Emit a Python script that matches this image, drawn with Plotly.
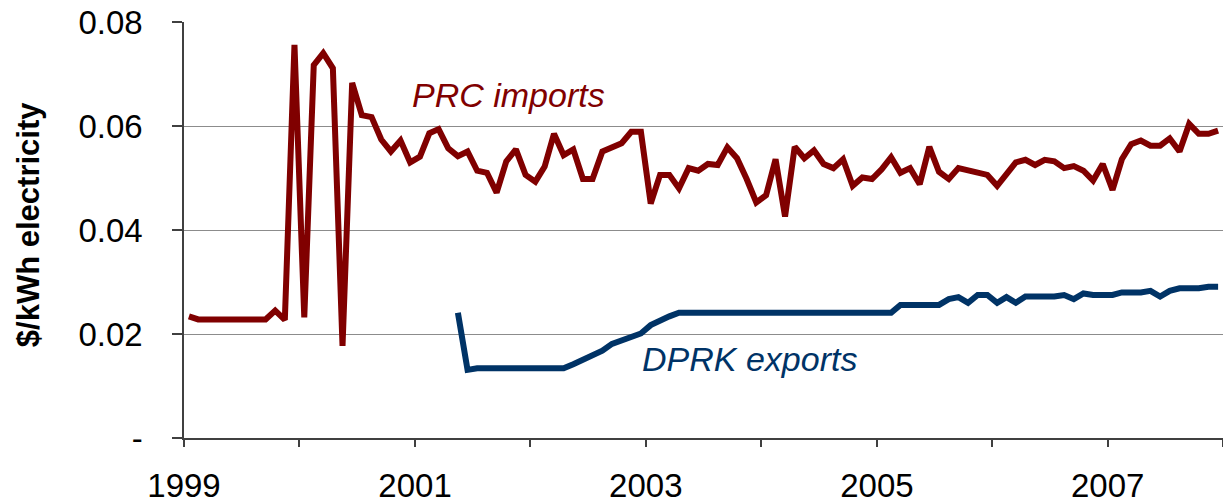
import pandas as pd
import plotly.graph_objects as go

months = [d.strftime("%Y-%m") for d in pd.date_range("1999-01-01", "2007-12-01", freq="MS")]

prc_imports = [
    0.0234, 0.0228, 0.0228, 0.0228, 0.0228, 0.0228, 0.0228, 0.0228, 0.0228, 0.0245, 0.0227, 0.0756,
    0.0232, 0.0717, 0.0740, 0.0711, 0.0177, 0.0683, 0.0621, 0.0617, 0.0574, 0.0551, 0.0572, 0.0530,
    0.0541, 0.0586, 0.0594, 0.0557, 0.0542, 0.0551, 0.0514, 0.0510, 0.0472, 0.0532, 0.0555, 0.0506,
    0.0493, 0.0522, 0.0585, 0.0544, 0.0555, 0.0498, 0.0498, 0.0551, 0.0559, 0.0567, 0.0589, 0.0589,
    0.0451, 0.0506, 0.0506, 0.0480, 0.0519, 0.0514, 0.0527, 0.0525, 0.0559, 0.0538, 0.0498, 0.0453,
    0.0467, 0.0536, 0.0426, 0.0560, 0.0538, 0.0553, 0.0527, 0.0519, 0.0536, 0.0485, 0.0501, 0.0498,
    0.0517, 0.0540, 0.0510, 0.0519, 0.0488, 0.0560, 0.0512, 0.0498, 0.0519, 0.0514, 0.0510, 0.0506,
    0.0485, 0.0508, 0.0530, 0.0535, 0.0525, 0.0535, 0.0532, 0.0519, 0.0523, 0.0514, 0.0495, 0.0527,
    0.0477, 0.0536, 0.0565, 0.0572, 0.0562, 0.0562, 0.0576, 0.0551, 0.0604, 0.0585, 0.0585, 0.0591,
]

dprk_exports = [
    None, None, None, None, None, None, None, None, None, None, None, None,
    None, None, None, None, None, None, None, None, None, None, None, None,
    None, None, None, None, 0.0241, 0.0131, 0.0134, 0.0134, 0.0134, 0.0134, 0.0134, 0.0134,
    0.0134, 0.0134, 0.0134, 0.0134, 0.0142, 0.0151, 0.0159, 0.0168, 0.0181, 0.0188, 0.0194, 0.0201,
    0.0217, 0.0227, 0.0234, 0.0241, 0.0241, 0.0241, 0.0241, 0.0241, 0.0241, 0.0241, 0.0241, 0.0241,
    0.0241, 0.0241, 0.0241, 0.0241, 0.0241, 0.0241, 0.0241, 0.0241, 0.0241, 0.0241, 0.0241, 0.0241,
    0.0241, 0.0241, 0.0256, 0.0256, 0.0256, 0.0256, 0.0256, 0.0267, 0.0271, 0.0260, 0.0275, 0.0275,
    0.0260, 0.0271, 0.0260, 0.0272, 0.0272, 0.0272, 0.0272, 0.0275, 0.0267, 0.0278, 0.0275, 0.0275,
    0.0275, 0.0280, 0.0280, 0.0280, 0.0283, 0.0272, 0.0283, 0.0288, 0.0288, 0.0288, 0.0291, 0.0291,
]

year_ticks = ["1999", "2000", "2001", "2002", "2003", "2004", "2005", "2006", "2007", "2008"]
year_labels = ["1999", "", "2001", "", "2003", "", "2005", "", "2007", ""]
y_ticks = [0, 0.02, 0.04, 0.06, 0.08]
y_labels = ["-", "0.02", "0.04", "0.06", "0.08"]

RED = "#800000"
BLUE = "#003366"
FONT = "Liberation Sans, Arial, sans-serif"

fig = go.Figure()
fig.add_trace(go.Scatter(
    x=months, y=prc_imports, mode="lines", name="PRC imports",
    line=dict(color=RED, width=6), xperiod="M1", xperiodalignment="middle",
))
fig.add_trace(go.Scatter(
    x=months, y=dprk_exports, mode="lines", name="DPRK exports",
    line=dict(color=BLUE, width=6), xperiod="M1", xperiodalignment="middle",
    connectgaps=False,
))

fig.add_annotation(x="2001-10-22", y=0.0660, text="<i>PRC imports</i>", showarrow=False,
                   font=dict(family=FONT, size=34, color=RED), xanchor="center", yanchor="middle")
fig.add_annotation(x="2003-11-25", y=0.0151, text="<i>DPRK exports</i>", showarrow=False,
                   font=dict(family=FONT, size=34, color=BLUE), xanchor="center", yanchor="middle")
fig.add_annotation(x=-0.150, y=0.512, xref="paper", yref="paper", text="<b>$/kWh electricity</b>",
                   textangle=-90, showarrow=False, font=dict(family=FONT, size=31, color="black"),
                   xanchor="center", yanchor="middle")

fig.update_layout(
    width=1223, height=504,
    margin=dict(l=184, r=0, t=22, b=66),
    paper_bgcolor="white", plot_bgcolor="white",
    showlegend=False,
    font=dict(family=FONT, size=33, color="black"),
)
fig.update_xaxes(
    type="date", range=["1999-01-01", "2008-01-01"], automargin=False,
    tickmode="array", tickvals=year_ticks, ticktext=year_labels,
    ticks="outside", ticklen=7, tickcolor="#404040", tickwidth=1.5,
    showline=True, linecolor="#404040", linewidth=1.5,
    showgrid=False, zeroline=False, ticklabelstandoff=11,
    tickfont=dict(family=FONT, size=33, color="black"),
)
fig.update_yaxes(
    range=[0, 0.08], automargin=False, tickmode="array", tickvals=y_ticks, ticktext=y_labels,
    ticks="outside", ticklen=10, tickcolor="#404040", tickwidth=1.5,
    showline=True, linecolor="#404040", linewidth=1.5,
    showgrid=True, gridcolor="#8c8c8c", gridwidth=1.2, zeroline=False,
    ticklabelstandoff=23,
    tickfont=dict(family=FONT, size=33, color="black"),
)

fig.write_html("out.html", config={"displayModeBar": False},
               post_script="document.body.style.margin='0px';document.body.style.padding='0px';")
